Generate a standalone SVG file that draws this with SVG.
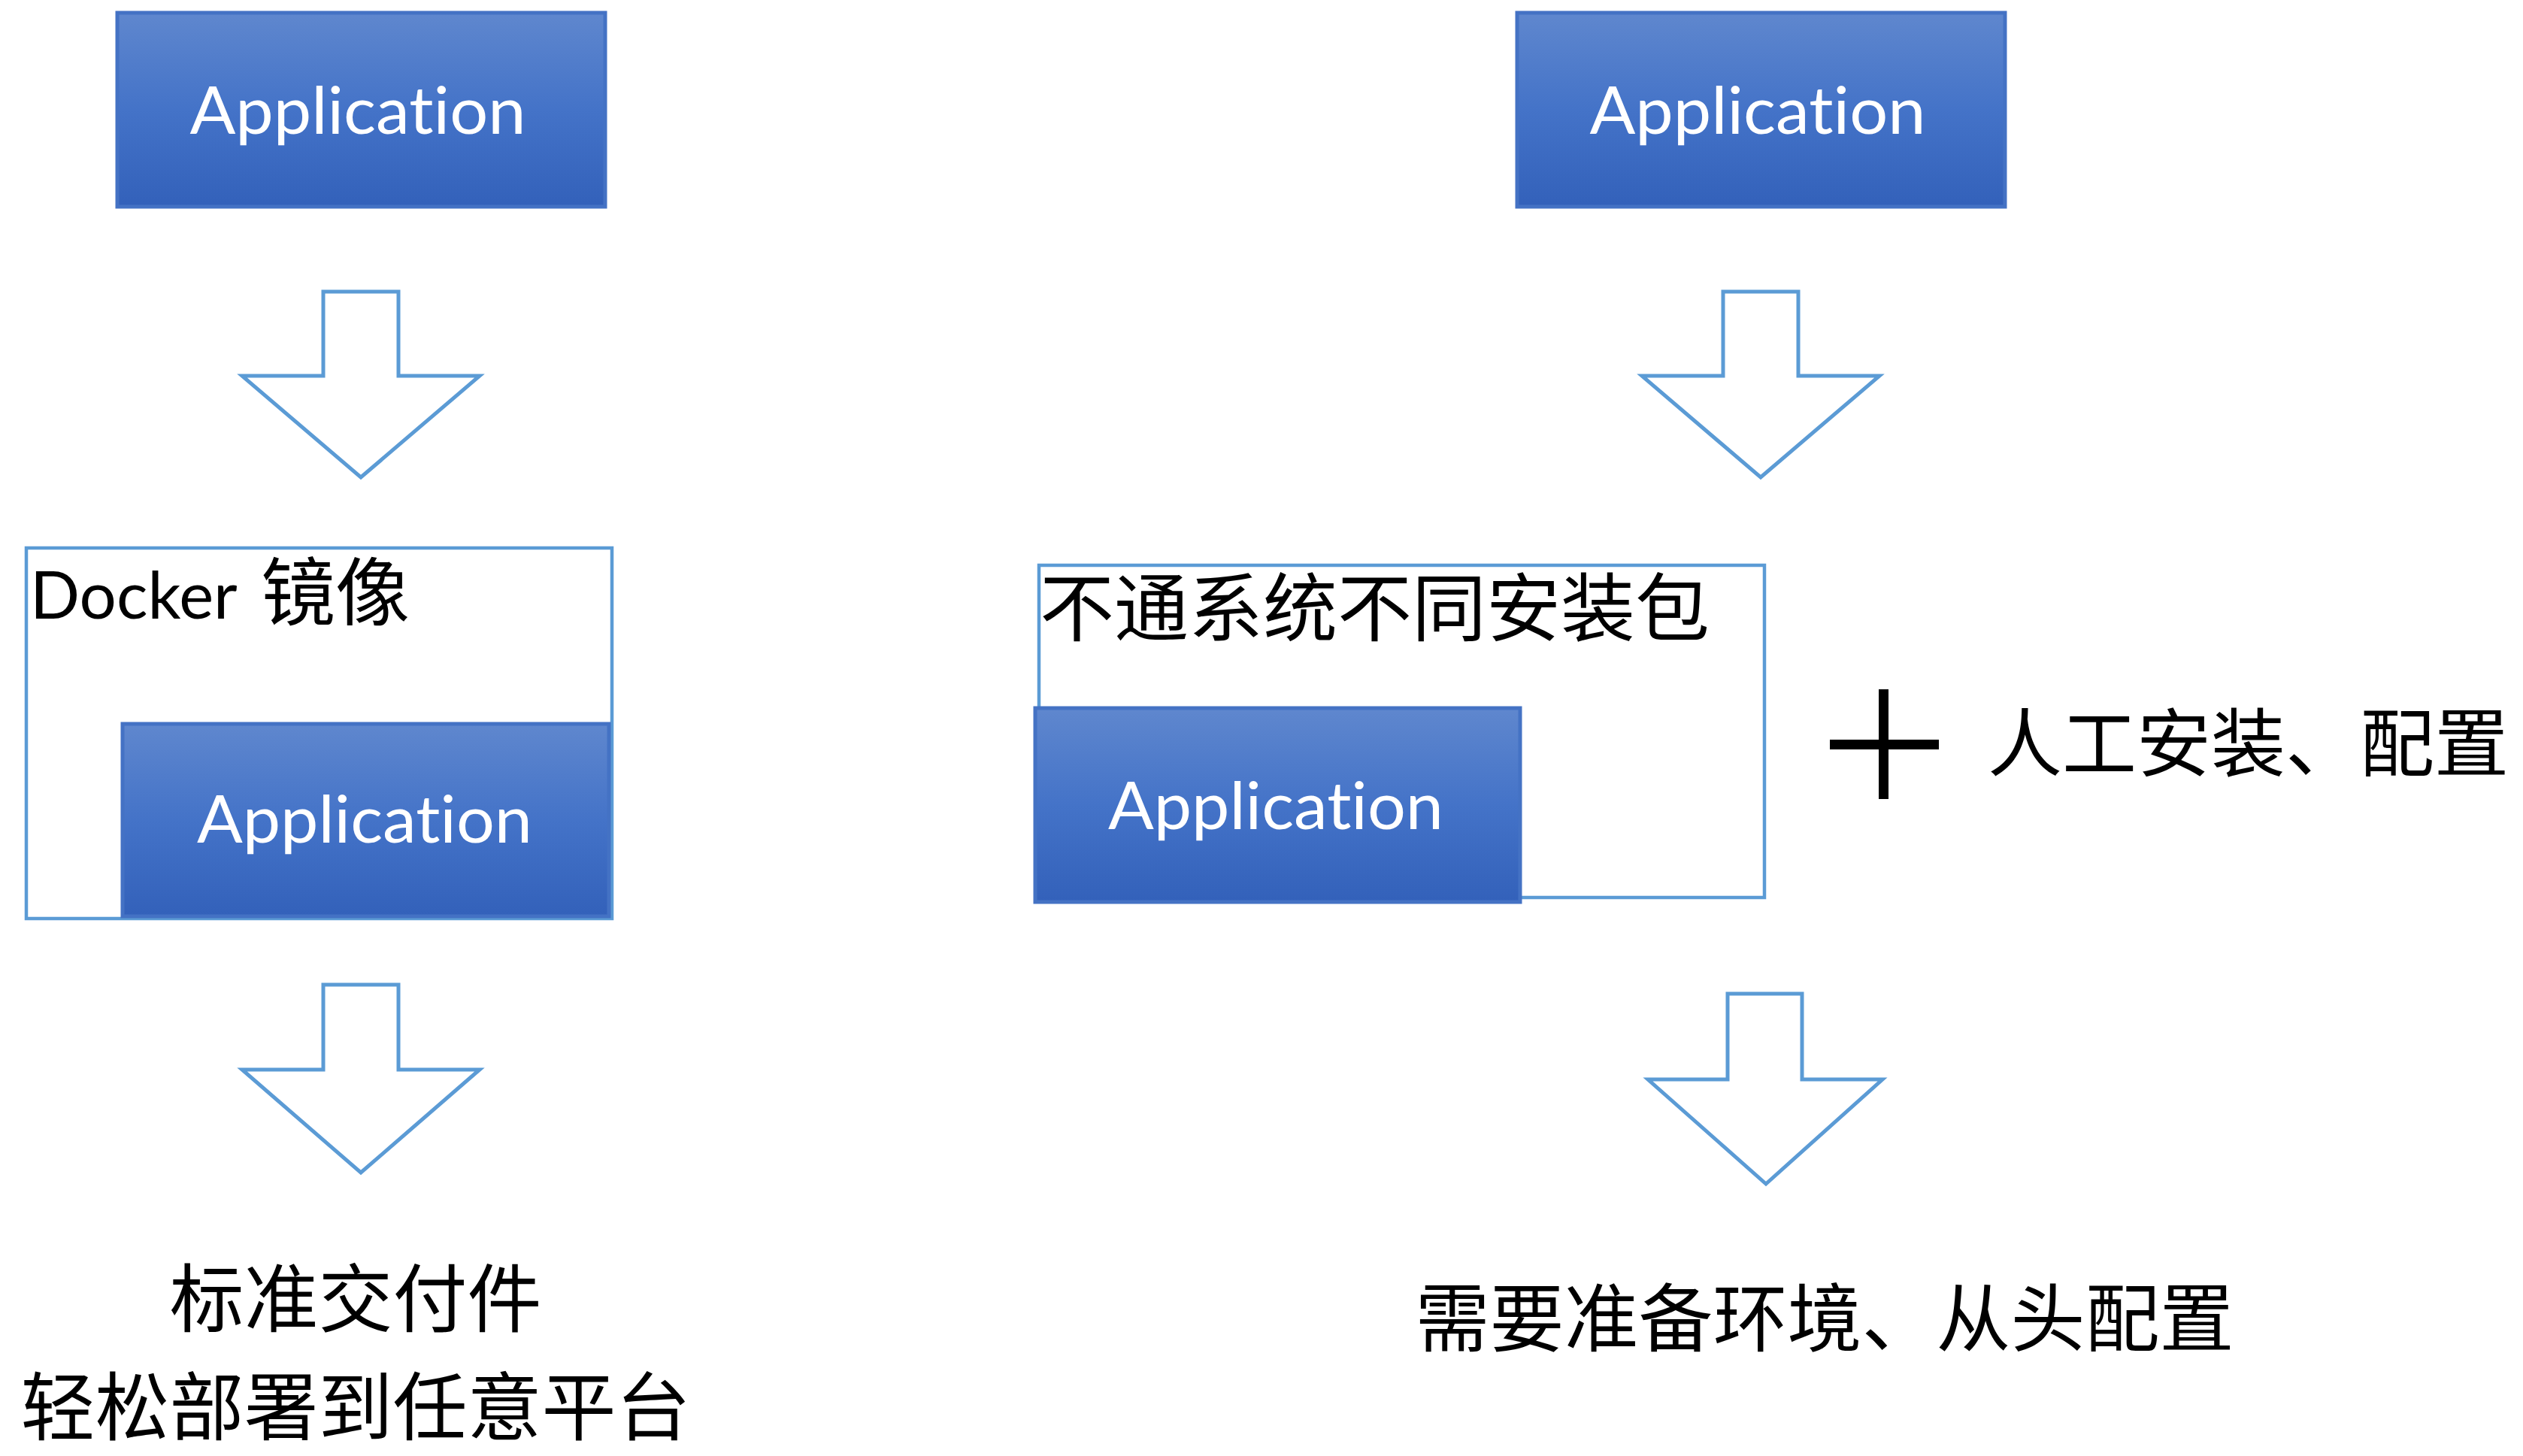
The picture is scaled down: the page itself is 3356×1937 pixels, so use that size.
<svg xmlns="http://www.w3.org/2000/svg" width="3356" height="1937" viewBox="0 0 3356 1937">
<defs>
<linearGradient id="appGrad" x1="0" y1="0" x2="0" y2="1">
<stop offset="0" stop-color="#5F87CE"/>
<stop offset="0.5" stop-color="#4473C8"/>
<stop offset="1" stop-color="#3361BA"/>
</linearGradient>
</defs>
<style>
.app{fill:url(#appGrad);stroke:#4472C4;stroke-width:5}
.apptxt{fill:#FFFFFF;font-family:Lato,"Open Sans","Liberation Sans",sans-serif;font-size:87px;text-anchor:middle;font-variant-ligatures:none;font-feature-settings:"liga" 0}
.frame{fill:#FFFFFF;stroke:#5B9BD5;stroke-width:4.5}
.arrow{fill:#FFFFFF;stroke:#5B9BD5;stroke-width:5;stroke-linejoin:miter}
.cjk{fill:#000000;font-family:"Noto Sans CJK SC","Noto Sans CJK JP",sans-serif;font-size:99px}
.lat{fill:#000000;font-family:Lato,"Open Sans","Liberation Sans",sans-serif;font-size:87px;font-variant-ligatures:none}
</style>
<rect width="3356" height="1937" fill="#FFFFFF"/>

<g id="app-left-top">
<rect class="app" x="156" y="17" width="649" height="258"/>
<text class="apptxt" x="476" y="178" textLength="447" lengthAdjust="spacingAndGlyphs">Application</text>
</g>

<g id="app-right-top">
<rect class="app" x="2018" y="17" width="649" height="258"/>
<text class="apptxt" x="2338" y="178" textLength="447" lengthAdjust="spacingAndGlyphs">Application</text>
</g>

<g id="docker-image">
<rect class="frame" x="35" y="729" width="779" height="493"/>
<text x="40" y="823"><tspan class="lat">Docker </tspan><tspan class="cjk" x="347" y="824">镜像</tspan></text>
<rect class="app" x="163" y="963" width="647" height="256"/>
<text class="apptxt" x="485" y="1121" textLength="446" lengthAdjust="spacingAndGlyphs">Application</text>
</g>

<g id="package-box">
<rect class="frame" x="1382" y="752" width="965" height="442"/>
<text class="cjk" x="1383" y="845">不通系统不同安装包</text>
<rect class="app" x="1377" y="942" width="645" height="258"/>
<text class="apptxt" x="1697" y="1103" textLength="446" lengthAdjust="spacingAndGlyphs">Application</text>
</g>

<g id="manual-config">
<rect x="2499" y="917" width="13" height="146" fill="#000000"/>
<rect x="2434" y="984" width="145" height="13" fill="#000000"/>
<text class="cjk" x="2644" y="1025">人工安装、配置</text>
</g>

<g id="result-left">
<text class="cjk" x="473" y="1764" text-anchor="middle">标准交付件</text>
<text class="cjk" x="473" y="1908" text-anchor="middle">轻松部署到任意平台</text>
</g>

<g id="result-right">
<text class="cjk" x="2427" y="1790" text-anchor="middle">需要准备环境、从头配置</text>
</g>

<g id="connectors">
<polygon class="arrow" points="430,388 530,388 530,500 638,500 480,635 322,500 430,500"/>
<polygon class="arrow" points="2292,388 2392,388 2392,500 2500,500 2342,635 2184,500 2292,500"/>
<polygon class="arrow" points="430,1310 530,1310 530,1423 638,1423 480,1560 322,1423 430,1423"/>
<polygon class="arrow" points="2298,1322 2397,1322 2397,1436 2504,1436 2349,1575 2192,1436 2298,1436"/>
</g>
</svg>
